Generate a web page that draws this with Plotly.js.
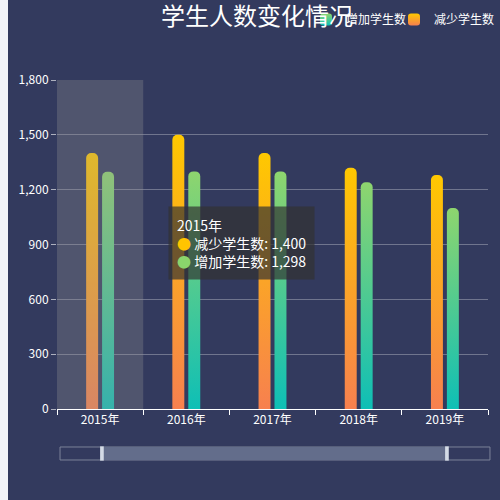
<!DOCTYPE html>
<html><head><meta charset="utf-8">
<script src="https://cdn.plot.ly/plotly-3.0.1.min.js"></script>
<style>
html,body{margin:0;padding:0;background:#f3f4f9;width:500px;height:500px;overflow:hidden}
#chart{position:absolute;left:8px;top:0;width:492px;height:500px}
</style></head>
<body><div id="chart"></div>
<script>
const categories = ['2015年','2016年','2017年','2018年','2019年'];
const decreaseName = '减少学生数';
const increaseName = '增加学生数';
const decreaseValues = [1400, 1500, 1400, 1320, 1280];
const increaseValues = [1298, 1300, 1300, 1240, 1100];
const yTicks = [0, 300, 600, 900, 1200, 1500, 1800];
const hoverIndex = 0;

const FONT = '"Noto Sans CJK SC", "Noto Sans", sans-serif';
const fmt = v => v.toLocaleString('en-US');

const traces = [
  {type:'bar', name:decreaseName, x:categories, y:decreaseValues, legend:'legend2',
   marker:{color:'#f9a03a', cornerradius:6}, hoverinfo:'skip'},
  {type:'bar', name:increaseName, x:categories, y:increaseValues, legend:'legend',
   marker:{color:'#4fcf9a', cornerradius:6}, hoverinfo:'skip'}
];

const tipText = categories[hoverIndex] + '<br>' +
  '<span style="color:#ffc400">●</span> ' + decreaseName + ': ' + fmt(decreaseValues[hoverIndex]) + '<br>' +
  '<span style="color:#8ad46c">●</span> ' + increaseName + ': ' + fmt(increaseValues[hoverIndex]);

const legendBase = {orientation:'h', xref:'container', xanchor:'left', yref:'container', y:0.99, yanchor:'top',
  font:{size:12, color:'#ffffff'}, bgcolor:'rgba(0,0,0,0)', itemwidth:30, borderwidth:0};

const layout = {
  width:492, height:500,
  paper_bgcolor:'#333a5e', plot_bgcolor:'rgba(0,0,0,0)',
  margin:{l:49, r:12, t:80, b:91},
  font:{family:FONT, color:'#ffffff', size:12},
  title:{text:'学生人数变化情况', font:{size:24, color:'#ffffff', family:FONT},
         xref:'container', x:0.506, xanchor:'center', yref:'container', y:0.967, yanchor:'middle'},
  showlegend:true,
  legend:Object.assign({}, legendBase, {x:298/492}),
  legend2:Object.assign({}, legendBase, {x:386/492}),
  barmode:'group', bargap:0.63, bargroupgap:0.25,
  xaxis:{type:'category', showgrid:false, showline:true, linecolor:'#ffffff', linewidth:1,
         ticks:'outside', tickson:'boundaries', ticklen:5, tickcolor:'#ffffff',
         tickfont:{size:12, color:'#ffffff'}, fixedrange:true},
  yaxis:{range:[0,1800], tickvals:yTicks, ticktext:yTicks.map(fmt), showline:false,
         gridcolor:'rgba(255,255,255,0.3)', gridwidth:1, zeroline:false,
         ticks:'outside', ticklen:5, tickcolor:'rgba(255,255,255,0.6)',
         tickfont:{size:12, color:'#ffffff'}, fixedrange:true},
  shapes:[
    {type:'rect', xref:'x', yref:'paper', x0:hoverIndex-0.5, x1:hoverIndex+0.5, y0:0, y1:1,
     fillcolor:'rgba(150,150,150,0.3)', line:{width:0}, layer:'above'},
    {type:'rect', xref:'paper', yref:'paper', x0:0.007, x1:1.0046, y0:-0.155, y1:-0.1155,
     fillcolor:'rgba(0,0,0,0)', line:{color:'#7c8299', width:1}},
    {type:'rect', xref:'paper', yref:'paper', x0:0.1044, x1:0.905, y0:-0.155, y1:-0.1155,
     fillcolor:'#636d8b', line:{width:0}},
    {type:'rect', xref:'paper', yref:'paper', x0:0.1, x1:0.1085, y0:-0.157, y1:-0.1135,
     fillcolor:'#d4dbe6', line:{width:0}},
    {type:'rect', xref:'paper', yref:'paper', x0:0.9005, x1:0.909, y0:-0.157, y1:-0.1135,
     fillcolor:'#d4dbe6', line:{width:0}}
  ],
  annotations:[
    {xref:'paper', yref:'paper', x:0.2575, y:0.617, xanchor:'left', yanchor:'top',
     text:tipText, showarrow:false, align:'left',
     font:{size:14, color:'#ffffff', family:FONT},
     bgcolor:'rgba(50,50,50,0.7)', bordercolor:'rgba(50,50,50,0)', borderpad:8}
  ],
  hovermode:false
};

Plotly.newPlot('chart', traces, layout, {displayModeBar:false, staticPlot:true}).then(gd => {
  const svg = gd.querySelector('svg.main-svg');
  const ns = 'http://www.w3.org/2000/svg';
  let defs = svg.querySelector('defs');
  const mk = (id, top, bottom) => {
    const g = document.createElementNS(ns, 'linearGradient');
    g.setAttribute('id', id);
    g.setAttribute('x1','0'); g.setAttribute('y1','0'); g.setAttribute('x2','0'); g.setAttribute('y2','1');
    const s1 = document.createElementNS(ns, 'stop'); s1.setAttribute('offset','0'); s1.setAttribute('stop-color', top);
    const s2 = document.createElementNS(ns, 'stop'); s2.setAttribute('offset','1'); s2.setAttribute('stop-color', bottom);
    g.appendChild(s1); g.appendChild(s2); defs.appendChild(g);
  };
  mk('gradDec', '#ffc800', '#f7804f');
  mk('gradInc', '#8ed56e', '#0ebfb6');
  const ids = ['gradDec','gradInc'];
  gd.querySelectorAll('.barlayer .trace').forEach((t, i) => {
    t.querySelectorAll('path').forEach(p => { p.style.fill = 'url(#' + ids[i] + ')'; });
  });
  gd.querySelectorAll('.legend .traces, .legend2 .traces, .infolayer .traces').forEach(t => {
    const name = t.textContent;
    const id = name === decreaseName ? 'gradDec' : 'gradInc';
    t.querySelectorAll('.legendpoints path').forEach(p => { p.style.fill = 'url(#' + id + ')'; p.style.stroke = 'none'; });
  });
});
</script></body></html>
